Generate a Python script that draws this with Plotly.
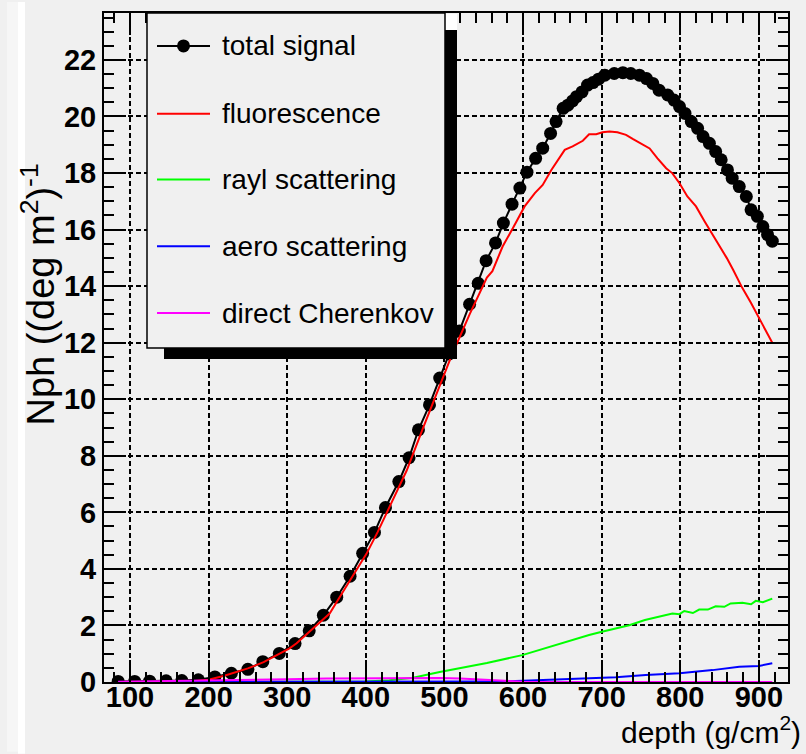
import plotly.graph_objects as go

# ---------------- data ----------------
total_depth = [85, 106, 125, 146, 166, 187, 208, 229, 250, 269, 290, 310, 328, 346,
               363, 380, 396, 411, 425, 442, 455, 467, 481, 494, 506, 519, 532, 543,
               553, 565, 575, 586, 596, 605, 616, 625, 635, 642, 651, 657, 663, 668,
               675, 682, 689, 696, 704, 716, 727, 737, 748, 757, 765, 773, 784, 792,
               799, 806, 814, 822, 829, 837, 845, 852, 860, 866, 875, 884, 890, 898,
               905, 911, 917]
total_signal = [0.02, 0.02, 0.03, 0.04, 0.05, 0.08, 0.18, 0.31, 0.45, 0.72, 1.01, 1.36, 1.81, 2.36,
                3.0, 3.74, 4.55, 5.29, 6.17, 7.09, 7.93, 8.92, 9.8, 10.75, 11.6, 12.41, 13.36, 14.1,
                14.9, 15.53, 16.23, 16.9, 17.47, 18.03, 18.52, 18.88, 19.4, 19.82, 20.29, 20.4, 20.55, 20.7,
                20.87, 21.11, 21.2, 21.32, 21.46, 21.52, 21.55, 21.52, 21.46, 21.34, 21.17, 20.93, 20.76, 20.58,
                20.35, 20.11, 19.82, 19.58, 19.29, 19.05, 18.76, 18.47, 18.11, 17.82, 17.52, 17.17, 16.7, 16.47,
                16.11, 15.82, 15.59]

fluo_depth = [85, 120, 150, 180, 200, 220, 250, 270, 290, 303, 312, 333, 354, 370, 385, 401, 415,
              430, 452, 473, 494, 510, 532, 554, 561, 574, 587, 602, 615, 625, 636, 653, 663, 676,
              684, 693, 701, 710, 720, 731, 740, 750, 761, 771, 782, 790, 799, 809, 820, 831, 840,
              848, 859, 867, 879, 890, 900, 908, 917]
fluo_signal = [0.0, 0.0, 0.01, 0.03, 0.08, 0.22, 0.48, 0.7, 0.98, 1.19, 1.37, 1.9, 2.42, 3.15, 3.8, 4.54, 5.3,
               6.18, 7.48, 9.0, 10.45, 11.6, 13.0, 14.3, 14.53, 15.4, 16.05, 16.82, 17.29, 17.58, 18.11, 18.82, 18.94, 19.14,
               19.37, 19.37, 19.44, 19.47, 19.44, 19.35, 19.2, 19.05, 18.87, 18.52, 18.17, 17.99, 17.64, 17.17, 16.82, 16.29, 15.88,
               15.53, 15.0, 14.59, 13.93, 13.4, 12.9, 12.5, 12.0]

rayl_depth = [85, 300, 400, 430, 460, 494, 532, 554, 599, 637, 646, 663, 684, 699, 716, 735, 755,
              773, 790, 799, 805, 816, 824, 835, 845, 856, 864, 879, 890, 896, 905, 917]
rayl_signal = [0.0, 0.0, 0.02, 0.06, 0.15, 0.35, 0.56, 0.67, 0.95, 1.27, 1.34, 1.5, 1.66, 1.77, 1.89, 2.01, 2.19,
               2.3, 2.42, 2.4, 2.51, 2.44, 2.56, 2.56, 2.68, 2.66, 2.78, 2.8, 2.75, 2.87, 2.82, 2.95]

aero_depth = [85, 500, 560, 600, 646, 680, 718, 756, 799, 841, 875, 900, 917]
aero_signal = [0.0, 0.0, 0.02, 0.04, 0.09, 0.13, 0.17, 0.25, 0.31, 0.42, 0.54, 0.57, 0.66]

cher_depth = [85, 150, 200, 250, 300, 350, 400, 450, 494, 520, 536, 560, 580, 600, 650, 917]
cher_signal = [0.01, 0.03, 0.05, 0.08, 0.1, 0.12, 0.13, 0.14, 0.14, 0.12, 0.1, 0.06, 0.03, 0.01, 0.0, 0.0]

legend_labels = ["total signal", "fluorescence", "rayl scattering", "aero scattering", "direct Cherenkov"]
legend_colors = ["#000000", "#ff0000", "#00ff00", "#0000ff", "#ff00ff"]

x_range = [67, 937]
y_range = [0, 23.66]

# ---------------- layout geometry (pixels) ----------------
W, H = 806, 754
L, R, T, B = 104, 788, 11, 682
PW, PH = R - L, B - T
BG = "#f0f0f0"


def px(xp):
    return (xp - L) / PW


def py(yp):
    return (B - yp) / PH


fig = go.Figure()

fig.add_trace(go.Scatter(x=total_depth, y=total_signal, mode="lines+markers",
                         line=dict(color="black", width=2),
                         marker=dict(color="black", size=13), showlegend=False))
fig.add_trace(go.Scatter(x=fluo_depth, y=fluo_signal, mode="lines",
                         line=dict(color="#ff0000", width=2), showlegend=False))
fig.add_trace(go.Scatter(x=rayl_depth, y=rayl_signal, mode="lines",
                         line=dict(color="#00ff00", width=2), showlegend=False))
fig.add_trace(go.Scatter(x=aero_depth, y=aero_signal, mode="lines",
                         line=dict(color="#0000ff", width=2), showlegend=False))
fig.add_trace(go.Scatter(x=cher_depth, y=cher_signal, mode="lines",
                         line=dict(color="#ff00ff", width=2), showlegend=False))

axis_common = dict(
    ticks="inside", ticklen=22, tickwidth=2, tickcolor="black",
    showline=True, linewidth=2, linecolor="black", mirror="allticks",
    showgrid=True, gridcolor="black", gridwidth=1.5, griddash="5px,3px",
    zeroline=False,
    tickfont=dict(family="Liberation Sans, Arial", size=29, color="black", weight="bold"),
)

fig.update_xaxes(range=x_range, tickmode="linear", tick0=100, dtick=100,
                 ticklabelstandoff=-12,
                 minor=dict(tick0=100, dtick=20, ticks="inside", ticklen=10, tickwidth=2,
                            tickcolor="black", showgrid=False),
                 **axis_common)
fig.update_yaxes(range=y_range, tickmode="linear", tick0=0, dtick=2,
                 minor=dict(tick0=0, dtick=0.5, ticks="inside", ticklen=10, tickwidth=2,
                            tickcolor="black", showgrid=False),
                 **axis_common)

shapes = []
# canvas edge strips on the left
shapes.append(dict(type="rect", xref="paper", yref="paper", x0=px(7), x1=px(18), y0=py(752), y1=py(0),
                   fillcolor="#f6f6f6", line=dict(width=0), layer="below"))
shapes.append(dict(type="rect", xref="paper", yref="paper", x0=px(18), x1=px(25), y0=py(754), y1=py(0),
                   fillcolor="#ffffff", line=dict(width=0), layer="below"))
# legend shadow + box
shapes.append(dict(type="rect", xref="paper", yref="paper", x0=px(445), x1=px(457), y0=py(28), y1=py(12),
                   fillcolor="#ffffff", line=dict(width=0), layer="above"))
shapes.append(dict(type="rect", xref="paper", yref="paper", x0=px(164), x1=px(457), y0=py(358), y1=py(28),
                   fillcolor="black", line=dict(width=0), layer="above"))
shapes.append(dict(type="rect", xref="paper", yref="paper", x0=px(147), x1=px(445), y0=py(347), y1=py(11),
                   fillcolor=BG, line=dict(color="black", width=1.5), layer="above"))

entry_y = [44, 112, 178, 245, 312]
annotations = []
for lab, col, ey in zip(legend_labels, legend_colors, entry_y):
    shapes.append(dict(type="line", xref="paper", yref="paper", x0=px(157), x1=px(210),
                       y0=py(ey), y1=py(ey), line=dict(color=col, width=2), layer="above"))
    annotations.append(dict(text=lab, xref="paper", yref="paper", x=px(220), y=py(ey),
                            xanchor="left", yanchor="middle", showarrow=False,
                            font=dict(family="Liberation Sans, Arial", size=28, color="black")))
# marker in the legend
r = 6.5
shapes.append(dict(type="circle", xref="paper", yref="paper", x0=px(183.5 - r), x1=px(183.5 + r),
                   y0=py(44 + r), y1=py(44 - r), fillcolor="black", line=dict(width=0), layer="above"))

# axis titles
annotations.append(dict(text="Nph ((deg m<sup>2</sup>)<sup>-1</sup>", xref="paper", yref="paper",
                        x=px(38), y=py(160), xanchor="center", yanchor="top", textangle=-90,
                        showarrow=False,
                        font=dict(family="Liberation Sans, Arial", size=38, color="black")))
annotations.append(dict(text="depth (g/cm<sup>2</sup>)", xref="paper", yref="paper",
                        x=px(803), y=py(730), xanchor="right", yanchor="middle",
                        showarrow=False,
                        font=dict(family="Liberation Sans, Arial", size=30, color="black")))

fig.update_layout(
    width=W, height=H,
    margin=dict(l=L, r=W - R, t=T, b=H - B, pad=0),
    paper_bgcolor=BG, plot_bgcolor=BG,
    shapes=shapes, annotations=annotations,
    showlegend=False,
)

fig.write_html("out.html")
